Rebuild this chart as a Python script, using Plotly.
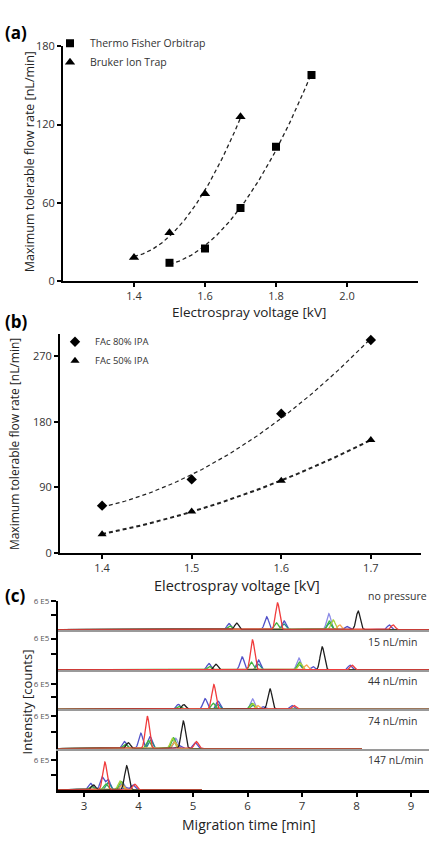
import numpy as np
import plotly.graph_objects as go

W, H = 429, 842

# ---------------- data ----------------
# (a)
A_VOLT_ORBI = [1.5, 1.6, 1.7, 1.8, 1.9]
A_FLOW_ORBI = [14, 25, 56, 103, 158]
A_VOLT_BRUKER = [1.4, 1.5, 1.6, 1.7]
A_FLOW_BRUKER = [18, 37, 67, 126]
A_XTICKS = [1.4, 1.6, 1.8, 2.0]
A_YTICKS = [0, 60, 120, 180]

# (b)
B_VOLT = [1.4, 1.5, 1.6, 1.7]
B_FLOW_80 = [65, 101, 191, 292]
B_FLOW_50 = [26, 57, 99, 155]
B_XTICKS = [1.4, 1.5, 1.6, 1.7]
B_YTICKS = [0, 90, 180, 270]

# (c) electropherograms: (trace, migration time [min], intensity [1E5 counts])
C_LABELS = ["no pressure", "15 nL/min", "44 nL/min", "74 nL/min", "147 nL/min"]
C_END_TIME = [9.4, 9.4, 9.4, 8.1, 5.16]
C_PEAKS_0 = [("blue", 5.66, 1.3), ("green", 5.67, 0.8), ("black", 5.80, 1.4),
             ("blue", 6.35, 2.75), ("red", 6.55, 5.65), ("green", 6.53, 1.45), ("blue", 6.67, 1.85), ("teal", 6.67, 1.2),
             ("violet", 7.49, 3.4), ("green", 7.50, 1.85), ("lime", 7.57, 2.1), ("teal", 7.50, 1.4), ("orange", 7.69, 1.0),
             ("blue", 7.82, 0.7), ("black", 8.03, 3.9), ("blue", 8.60, 1.0), ("red", 8.67, 1.0)]
C_PEAKS_1 = [("blue", 5.29, 1.25), ("green", 5.30, 0.7), ("black", 5.42, 1.1),
             ("blue", 5.90, 2.5), ("red", 6.09, 5.75), ("green", 6.07, 1.5), ("blue", 6.20, 1.9), ("teal", 6.20, 1.1),
             ("violet", 6.94, 2.3), ("green", 6.95, 1.5), ("lime", 6.97, 1.3), ("teal", 6.95, 1.0), ("orange", 7.08, 0.95),
             ("blue", 7.20, 0.65), ("black", 7.37, 4.4), ("blue", 7.88, 0.9), ("red", 7.92, 0.9)]
C_PEAKS_2 = [("blue", 4.73, 1.15), ("green", 4.74, 0.7), ("black", 4.83, 1.1),
             ("blue", 5.22, 2.5), ("red", 5.38, 5.8), ("green", 5.37, 1.4), ("blue", 5.46, 1.9), ("teal", 5.46, 1.15),
             ("violet", 6.09, 2.45), ("green", 6.08, 1.4), ("lime", 6.10, 1.3), ("teal", 6.09, 1.0), ("orange", 6.18, 0.9),
             ("blue", 6.28, 0.6), ("black", 6.41, 4.85), ("blue", 6.81, 0.9), ("red", 6.85, 0.9)]
C_PEAKS_3 = [("blue", 3.74, 1.3), ("green", 3.75, 0.8), ("black", 3.81, 1.1),
             ("blue", 4.04, 2.85), ("red", 4.16, 6.0), ("green", 4.18, 1.5), ("blue", 4.21, 2.2), ("teal", 4.22, 1.6),
             ("violet", 4.68, 1.9), ("green", 4.64, 2.0), ("lime", 4.62, 1.9), ("teal", 4.66, 1.2), ("orange", 4.66, 1.2),
             ("blue", 4.74, 0.6), ("black", 4.82, 5.1), ("blue", 5.04, 1.1), ("red", 5.06, 1.3)]
C_PEAKS_4 = [("blue", 3.12, 1.3), ("green", 3.13, 0.7), ("black", 3.17, 1.0),
             ("blue", 3.33, 2.6), ("red", 3.38, 5.65), ("green", 3.40, 1.2), ("blue", 3.44, 2.1), ("teal", 3.44, 1.5),
             ("violet", 3.70, 1.6), ("green", 3.68, 1.7), ("lime", 3.66, 1.8), ("teal", 3.69, 1.1), ("orange", 3.70, 1.0),
             ("blue", 3.76, 0.5), ("black", 3.78, 4.9), ("blue", 3.90, 1.0), ("red", 3.93, 1.15)]
C_PEAKS = [C_PEAKS_0, C_PEAKS_1, C_PEAKS_2, C_PEAKS_3, C_PEAKS_4]
C_XTICKS = [3, 4, 5, 6, 7, 8, 9]

# ---------------- styles ----------------
FONT = "Open Sans"
COLORS = {"violet": "#8c8ce6", "blue": "#5050c8", "teal": "#218c8c", "green": "#3cb43c",
          "lime": "#a5d23c", "orange": "#f5a550", "black": "#1e1e1e", "red": "#f03c3c"}
ORDER = ["violet", "blue", "teal", "green", "lime", "orange", "black", "red"]
SIGMA = 0.038


def px(x):
    return x / W


def py(y):
    return 1 - y / H


fig = go.Figure()


def fit_curve(xs, ys):
    c = np.polyfit(xs, ys, 2)
    xf = np.linspace(min(xs), max(xs), 120)
    return xf, np.polyval(c, xf)


dash = "4px,3px"
# (a)
for xs, ys in [(A_VOLT_ORBI, A_FLOW_ORBI), (A_VOLT_BRUKER, A_FLOW_BRUKER)]:
    xf, yf = fit_curve(xs, ys)
    fig.add_trace(go.Scatter(x=xf, y=yf, mode="lines", line=dict(color="#222", width=1.3, dash=dash),
                             showlegend=False, hoverinfo="skip", xaxis="x", yaxis="y"))
fig.add_trace(go.Scatter(x=A_VOLT_ORBI, y=A_FLOW_ORBI, mode="markers", name="Thermo Fisher Orbitrap",
                         marker=dict(symbol="square", size=8, color="black"), xaxis="x", yaxis="y", legend="legend"))
fig.add_trace(go.Scatter(x=A_VOLT_BRUKER, y=A_FLOW_BRUKER, mode="markers", name="Bruker Ion Trap",
                         marker=dict(symbol="triangle-up", size=9, color="black"), xaxis="x", yaxis="y", legend="legend"))

# (b)
for ys, w in [(B_FLOW_80, 1.2), (B_FLOW_50, 2.0)]:
    xf, yf = fit_curve(B_VOLT, ys)
    fig.add_trace(go.Scatter(x=xf, y=yf, mode="lines", line=dict(color="#222", width=w, dash=dash),
                             showlegend=False, hoverinfo="skip", xaxis="x2", yaxis="y2"))
fig.add_trace(go.Scatter(x=B_VOLT, y=B_FLOW_80, mode="markers", name="FAc 80% IPA",
                         marker=dict(symbol="diamond", size=8, color="black"), xaxis="x2", yaxis="y2", legend="legend2"))
fig.add_trace(go.Scatter(x=B_VOLT, y=B_FLOW_50, mode="markers", name="FAc 50% IPA",
                         marker=dict(symbol="triangle-up", size=8, color="black"), xaxis="x2", yaxis="y2", legend="legend2"))

# (c) layout geometry (pixels)
SHIFT = -11
BASE_PX = [v + SHIFT for v in [644, 685, 725, 765, 807]]
TOP_PX = [v + SHIFT for v in [615, 644, 685, 725, 765]]
LABEL_PX = [v + SHIFT for v in [615, 653, 699, 732, 777]]
LABEL_Y_PX = [v + SHIFT for v in [610, 656, 696, 737, 777]]
X_AXIS_IDS = ["x4", "x5", "x6", "x7", "x3"]
Y_AXIS_IDS = ["y3", "y4", "y5", "y6", "y7"]

layout_axes = {}
for k in range(5):
    xa, ya = X_AXIS_IDS[k], Y_AXIS_IDS[k]
    tgrid = np.arange(2.5, C_END_TIME[k] + 1e-9, 0.004)
    for s in ORDER:
        yv = np.zeros_like(tgrid)
        for (name, t0, h) in C_PEAKS[k]:
            if name == s:
                yv += h * np.exp(-0.5 * ((tgrid - t0) / SIGMA) ** 2)
        fig.add_trace(go.Scatter(x=tgrid, y=yv, mode="lines", line=dict(color=COLORS[s], width=1.3),
                                 showlegend=False, hoverinfo="skip", xaxis=xa, yaxis=ya))
    scale_top = 6.0 * (BASE_PX[k] - TOP_PX[k]) / (BASE_PX[k] - LABEL_PX[k])
    yname = "yaxis" + ya[1:]
    xname = "xaxis" + xa[1:]
    layout_axes[yname] = dict(domain=[py(BASE_PX[k]), py(TOP_PX[k])], range=[0, scale_top], anchor=xa,
                              tickvals=[3, 6], ticktext=["", "6 E5"], ticks="outside", ticklen=5, tickwidth=1.5,
                              tickcolor="black", showline=True, linewidth=2, linecolor="black",
                              showgrid=False, zeroline=False, tickfont=dict(size=8, color="#555", family=FONT))
    if xa == "x3":
        layout_axes[xname] = dict(domain=[px(58), 1], range=[2.52, 9.33], anchor=ya, tickvals=C_XTICKS,
                                  ticks="outside", ticklen=4, tickwidth=1.5, tickcolor="black",
                                  showline=True, linewidth=2.5, linecolor="black", showgrid=False, zeroline=False,
                                  tickfont=dict(size=11.5, color="#333", family=FONT))
    else:
        layout_axes[xname] = dict(domain=[px(58), 1], range=[2.52, 9.33], anchor=ya, matches="x3",
                                  showticklabels=False, ticks="", showline=True, linewidth=1.5,
                                  linecolor="#9a9a9a", showgrid=False, zeroline=False)

common = dict(ticks="outside", ticklen=4, tickwidth=1.5, tickcolor="black", showline=True, linewidth=2,
              linecolor="black", showgrid=False, zeroline=False, tickfont=dict(size=11, color="#333", family=FONT))

annotations = []


def ann(text, x, y, size, xanchor="center", yanchor="middle", bold=False, angle=0, color="#222"):
    annotations.append(dict(text=("<b>%s</b>" % text) if bold else text, x=px(x), y=py(y), xref="paper",
                            yref="paper", showarrow=False, xanchor=xanchor, yanchor=yanchor, textangle=angle,
                            font=dict(size=size, color=color, family=FONT), borderpad=0))


ann("(a)", 4, 25, 17, xanchor="left", bold=True, color="black")
ann("(b)", 4, 319, 17, xanchor="left", bold=True, color="black")
ann("(c)", 4, 598, 17, xanchor="left", bold=True, color="black")
ann("Electrospray voltage [kV]", 249, 299, 13.5, yanchor="top")
ann("Electrospray voltage [kV]", 237, 577, 14.5, yanchor="top")
ann("Migration time [min]", 249, 842, 14, yanchor="bottom")
ann("Maximum tolerable flow rate [nL/min]", 29, 157, 12.5, angle=-90)
ann("Maximum tolerable flow rate [nL/min]", 14, 444, 12, angle=-90)
ann("Intensity [counts]", 27, 707, 13, angle=-90)
for k in range(5):
    ann(C_LABELS[k], 367, LABEL_Y_PX[k], 10.5, xanchor="left", color="#333")

fig.update_layout(
    width=W, height=H, margin=dict(l=0, r=0, t=0, b=0), paper_bgcolor="white", plot_bgcolor="white",
    font=dict(family=FONT, color="#222"),
    xaxis=dict(domain=[px(63), px(418)], range=[1.2, 2.2], anchor="y", tickvals=A_XTICKS,
               ticktext=["%.1f" % v for v in A_XTICKS], **common),
    yaxis=dict(domain=[py(278), py(39)], range=[0, 180], anchor="x", tickvals=A_YTICKS, **common),
    xaxis2=dict(domain=[px(60), px(421)], range=[1.353, 1.756], anchor="y2", tickvals=B_XTICKS,
                ticktext=["%.1f" % v for v in B_XTICKS], **common),
    yaxis2=dict(domain=[py(555), py(332)], range=[0, 300], anchor="x2", tickvals=B_YTICKS, **common),
    legend=dict(x=px(50), y=py(21), xanchor="left", yanchor="top", bgcolor="rgba(0,0,0,0)",
                font=dict(size=10.5, color="#333", family=FONT), itemwidth=30, tracegroupgap=0),
    legend2=dict(x=px(55), y=py(325), xanchor="left", yanchor="top", bgcolor="rgba(0,0,0,0)",
                 font=dict(size=9.5, color="#333", family=FONT), itemwidth=30, tracegroupgap=0),
    annotations=annotations,
    showlegend=True,
    **layout_axes,
)

fig.write_html("out.html")
